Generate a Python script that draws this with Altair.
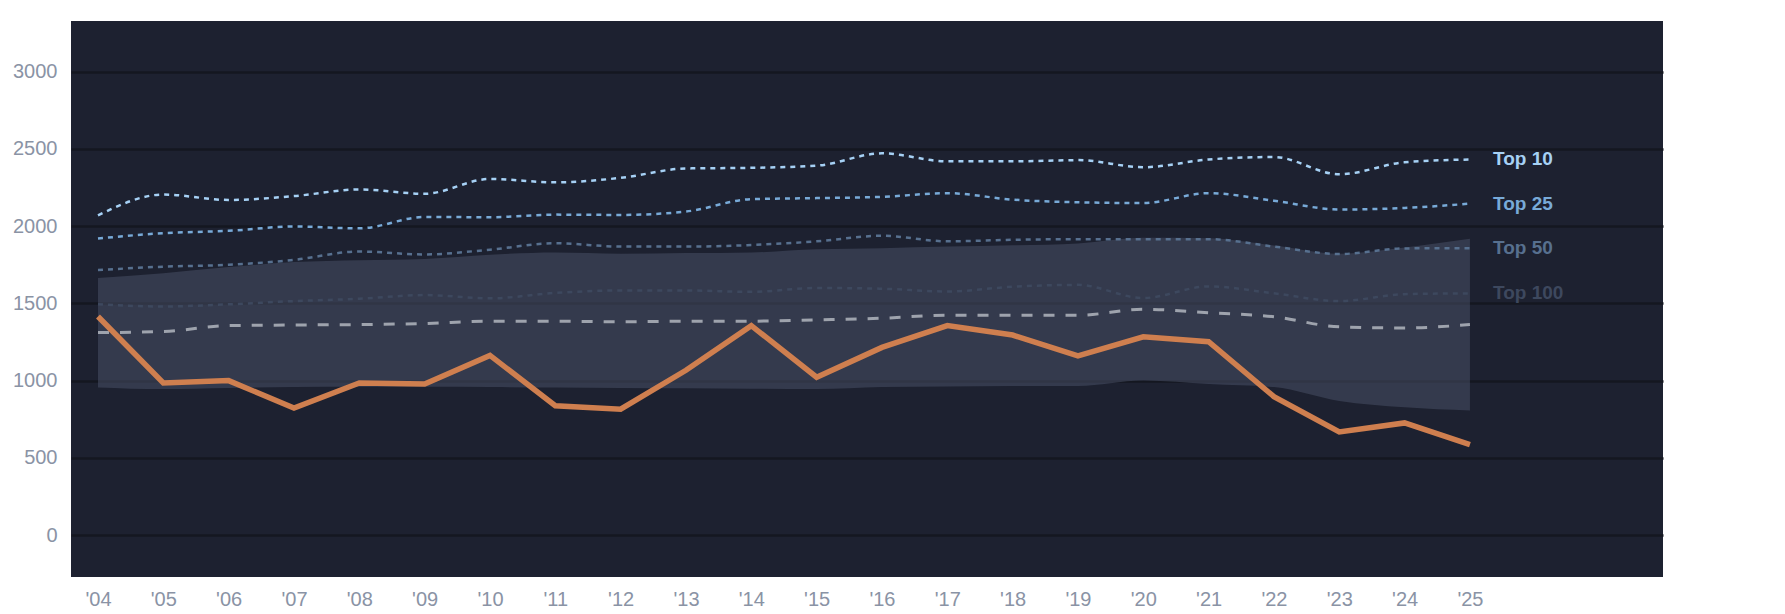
import altair as alt
import pandas as pd

years = list(range(2004, 2026))
main_series = [1415, 985, 1000, 822, 985, 978, 1163, 837, 815, 1067, 1356, 1022,
               1215, 1356, 1295, 1160, 1284, 1252, 896, 667, 726, 585]
median_series = [1311, 1318, 1356, 1360, 1363, 1370, 1385, 1385, 1381, 1385, 1385, 1393,
                 1404, 1424, 1423, 1423, 1462, 1439, 1414, 1348, 1341, 1363]
band_low = [956, 945, 952, 958, 960, 960, 958, 955, 952, 950, 948, 945,
            958, 962, 965, 965, 1000, 978, 958, 868, 827, 806]
band_high = [1665, 1695, 1735, 1768, 1780, 1788, 1815, 1830, 1822, 1826, 1830, 1850,
             1858, 1868, 1876, 1888, 1925, 1922, 1875, 1822, 1862, 1918]
top10 = [2070, 2205, 2170, 2195, 2238, 2210, 2306, 2284, 2313, 2374, 2378, 2392,
         2472, 2420, 2420, 2428, 2382, 2432, 2448, 2336, 2414, 2432]
top25 = [1920, 1955, 1970, 1998, 1986, 2060, 2058, 2075, 2073, 2095, 2175, 2182,
         2190, 2214, 2172, 2155, 2150, 2214, 2165, 2108, 2118, 2146]
top50 = [1716, 1738, 1750, 1782, 1836, 1817, 1848, 1890, 1868, 1868, 1878, 1902,
         1938, 1902, 1912, 1916, 1916, 1916, 1868, 1820, 1856, 1858]
top100 = [1494, 1480, 1494, 1515, 1530, 1554, 1533, 1568, 1584, 1584, 1575, 1600,
          1595, 1577, 1608, 1620, 1535, 1610, 1565, 1515, 1560, 1565]

tier_names = ["Top 10", "Top 25", "Top 50", "Top 100"]
tier_values = [top10, top25, top50, top100]
tier_colors = ["#a6d1f5", "#78aad8", "#57708f", "#3d485e"]

y_ticks = [0, 500, 1000, 1500, 2000, 2500, 3000]

FONT = "Liberation Sans"

df = pd.DataFrame({
    "year": years,
    "value": main_series,
    "median": median_series,
    "low": band_low,
    "high": band_high,
})

x_scale = alt.Scale(domain=[2003.587, 2027.955], nice=False, zero=False)
y_scale = alt.Scale(domain=[-272, 3329], nice=False, zero=False)

x_enc = alt.X(
    "year:Q", scale=x_scale,
    axis=alt.Axis(values=years, labelExpr="\"'\" + substring(toString(datum.value), 2, 4)",
                  grid=False, domain=False, ticks=False, tickSize=0, labelPadding=12,
                  title=None, labelFontSize=20, labelColor="#8a93a5", labelFont=FONT),
)

band = alt.Chart(df).mark_area(interpolate="monotone", color="#4c5469", opacity=0.5).encode(
    x=x_enc,
    y=alt.Y("low:Q", scale=y_scale,
            axis=alt.Axis(values=y_ticks, format="d", grid=True, gridColor="#141720", gridWidth=2.5,
                          domain=False, ticks=False, tickSize=0, labelPadding=14,
                          title=None, labelFontSize=20, labelColor="#8a93a5", labelFont=FONT)),
    y2="high:Q",
)

layers = [band]
for name, vals, col in zip(tier_names, tier_values, tier_colors):
    tdf = pd.DataFrame({"year": years, "value": vals})
    layers.append(
        alt.Chart(tdf).mark_line(interpolate="monotone", color=col, strokeWidth=2.5,
                                 strokeDash=[5, 5]).encode(
            x=alt.X("year:Q", scale=x_scale),
            y=alt.Y("value:Q", scale=y_scale),
        )
    )

median_line = alt.Chart(df).mark_line(interpolate="monotone", color="#9ea3ad", strokeWidth=3,
                                      strokeDash=[11, 11]).encode(
    x=alt.X("year:Q", scale=x_scale),
    y=alt.Y("median:Q", scale=y_scale),
)
layers.append(median_line)

main_line = alt.Chart(df).mark_line(color="#cf7f4f", strokeWidth=5.5).encode(
    x=alt.X("year:Q", scale=x_scale),
    y=alt.Y("value:Q", scale=y_scale),
)
layers.append(main_line)

label_df = pd.DataFrame({
    "year": [years[-1]] * 4,
    "value": [v[-1] for v in tier_values],
    "name": tier_names,
    "color": tier_colors,
})
labels = alt.Chart(label_df).mark_text(align="left", baseline="middle", dx=23, fontSize=19,
                                       fontWeight="bold", font=FONT).encode(
    x=alt.X("year:Q", scale=x_scale),
    y=alt.Y("value:Q", scale=y_scale),
    text="name:N",
    color=alt.Color("color:N", scale=None),
)
layers.append(labels)

chart = alt.layer(*layers).properties(
    width=1592,
    height=556,
    autosize=alt.AutoSizeParams(type="none"),
    padding={"left": 63, "top": 13, "right": 100, "bottom": 36},
    background="#ffffff",
).configure_view(fill="#1d2130", stroke=None, strokeWidth=0)

chart.save("out.html", embed_options={"renderer": "svg", "actions": False})
